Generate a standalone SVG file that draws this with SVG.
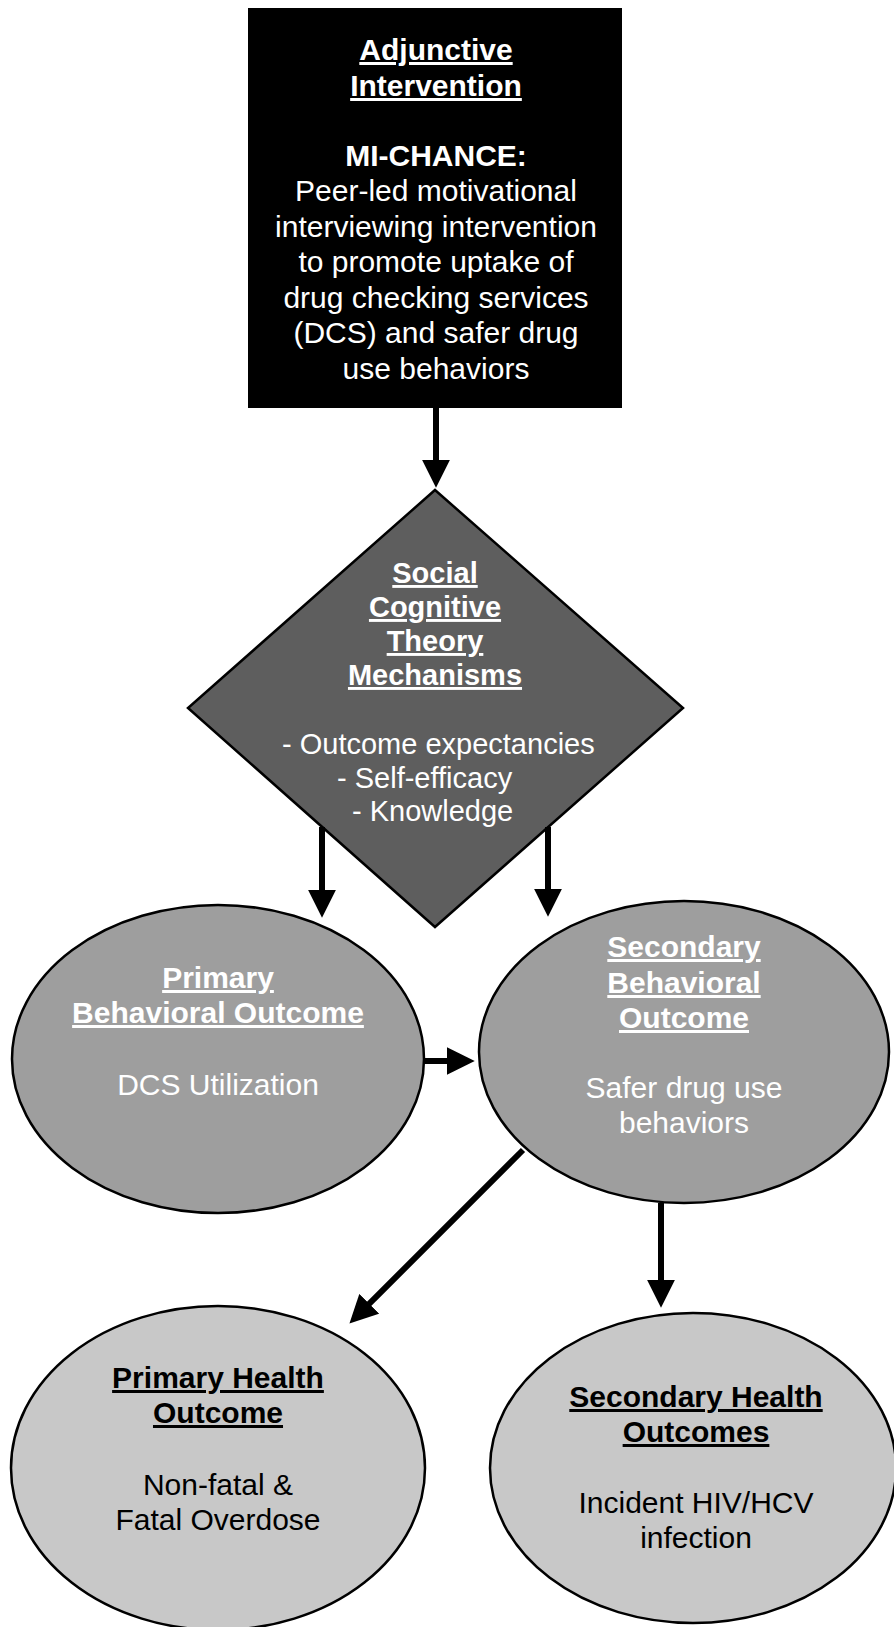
<svg xmlns="http://www.w3.org/2000/svg" width="894" height="1627" viewBox="0 0 894 1627">
<defs>
<marker id="ah" markerUnits="userSpaceOnUse" markerWidth="28" markerHeight="28" viewBox="0 0 27 27" refX="7" refY="13.5" orient="auto">
<path d="M0,0 L27,13.5 L0,27 z" fill="#000"/>
</marker>
</defs>
<style>
text{font-family:"Liberation Sans",Arial,sans-serif;text-anchor:middle}
.t{font-size:30px}
.d{font-size:29px}
.b{font-weight:bold;text-decoration:underline}
.w{fill:#fff}
.k{fill:#000}
.conn line{stroke:#000;stroke-width:6;marker-end:url(#ah)}
.ol{stroke:#000;stroke-width:2.5}
</style>
<rect width="894" height="1627" fill="#fff"/>
<g id="intervention">
<rect x="248" y="8" width="374" height="400" fill="#000"/>
<text class="t w b" x="436" y="60">Adjunctive</text>
<text class="t w b" x="436" y="96">Intervention</text>
<text class="t w" x="436" y="166" font-weight="bold">MI-CHANCE:</text>
<text class="t w" x="436" y="201">Peer-led motivational</text>
<text class="t w" x="436" y="237">interviewing intervention</text>
<text class="t w" x="436" y="272">to promote uptake of</text>
<text class="t w" x="436" y="308">drug checking services</text>
<text class="t w" x="436" y="343">(DCS) and safer drug</text>
<text class="t w" x="436" y="379">use behaviors</text>
</g>
<g id="mechanisms">
<polygon class="ol" points="435,490 683,708 435,927 188,708" fill="#5e5e5e"/>
<text class="d w b" x="435" y="583">Social</text>
<text class="d w b" x="435" y="617">Cognitive</text>
<text class="d w b" x="435" y="651">Theory</text>
<text class="d w b" x="435" y="685">Mechanisms</text>
<text class="d w" x="282" y="754" style="text-anchor:start">- Outcome expectancies</text>
<text class="d w" x="337" y="788" style="text-anchor:start">- Self-efficacy</text>
<text class="d w" x="352" y="821" style="text-anchor:start">- Knowledge</text>
</g>
<g id="primary-behavioral">
<ellipse class="ol" cx="218" cy="1059" rx="206" ry="154" fill="#9e9e9e"/>
<text class="t w b" x="218" y="988">Primary</text>
<text class="t w b" x="218" y="1023">Behavioral Outcome</text>
<text class="t w" x="218" y="1095">DCS Utilization</text>
</g>
<g id="secondary-behavioral">
<ellipse class="ol" cx="684" cy="1052" rx="205" ry="151" fill="#9e9e9e"/>
<text class="t w b" x="684" y="957">Secondary</text>
<text class="t w b" x="684" y="993">Behavioral</text>
<text class="t w b" x="684" y="1028">Outcome</text>
<text class="t w" x="684" y="1098">Safer drug use</text>
<text class="t w" x="684" y="1133">behaviors</text>
</g>
<g id="primary-health">
<ellipse class="ol" cx="218" cy="1468" rx="207" ry="162" fill="#c8c8c8"/>
<text class="t k b" x="218" y="1388">Primary Health</text>
<text class="t k b" x="218" y="1423">Outcome</text>
<text class="t k" x="218" y="1495">Non-fatal &amp;</text>
<text class="t k" x="218" y="1530">Fatal Overdose</text>
</g>
<g id="secondary-health">
<ellipse class="ol" cx="693" cy="1468" rx="203" ry="155" fill="#c8c8c8"/>
<text class="t k b" x="696" y="1407">Secondary Health</text>
<text class="t k b" x="696" y="1442">Outcomes</text>
<text class="t k" x="696" y="1513">Incident HIV/HCV</text>
<text class="t k" x="696" y="1548">infection</text>
</g>
<g id="connectors" class="conn">
<line x1="436" y1="408" x2="436" y2="467"/>
<line x1="322" y1="827" x2="322" y2="897"/>
<line x1="548" y1="827" x2="548" y2="896"/>
<line x1="423" y1="1061" x2="454" y2="1061"/>
<line x1="523" y1="1150" x2="364.1" y2="1308.9"/>
<line x1="661" y1="1203" x2="661" y2="1287"/>
</g>
</svg>
